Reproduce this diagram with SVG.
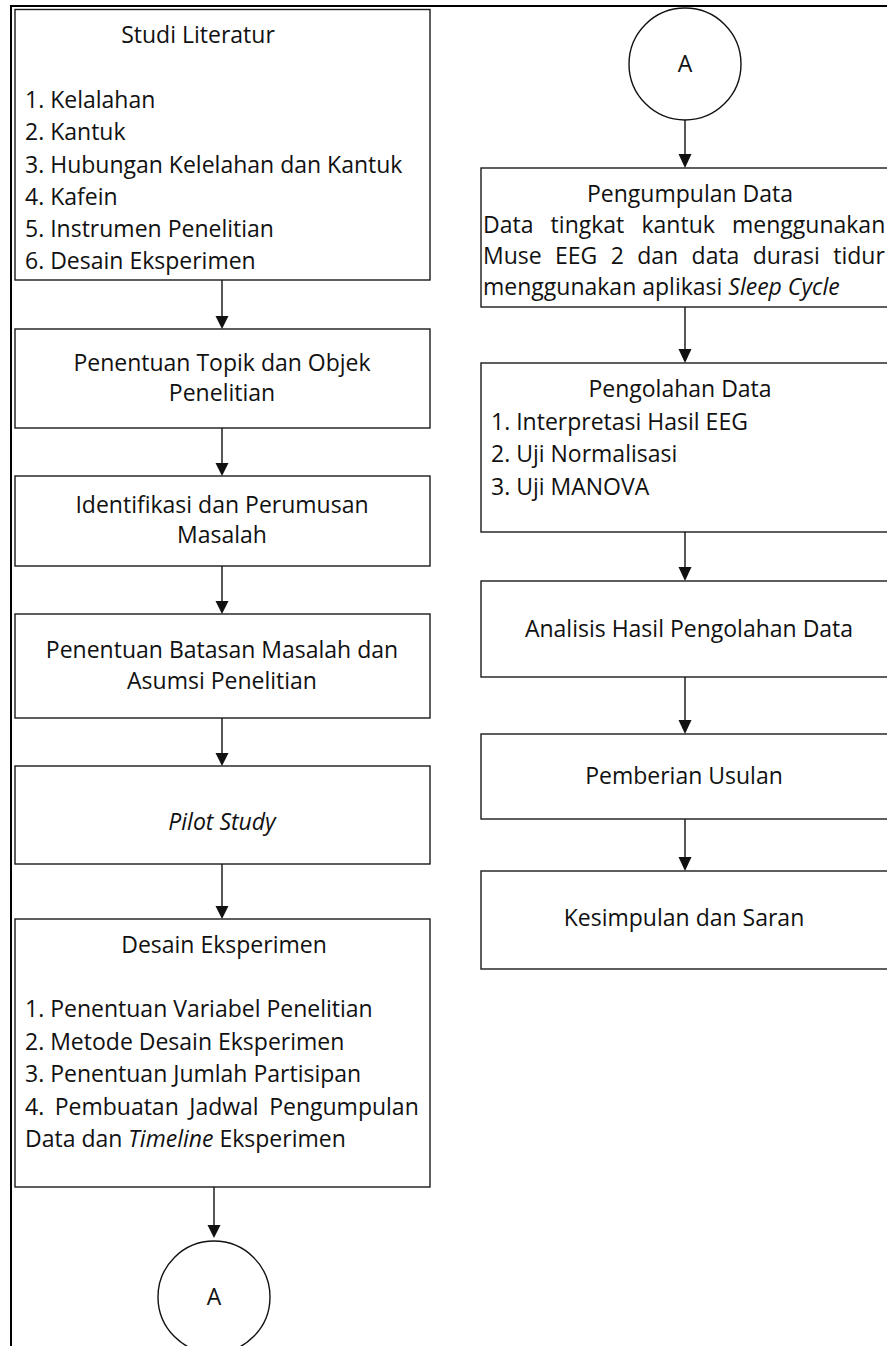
<svg xmlns="http://www.w3.org/2000/svg" width="887" height="1346" viewBox="0 0 887 1346">
<style>
.box{fill:#fff;stroke:#1a1a1a;stroke-width:1.4}
.frame{stroke:#000;stroke-width:2;fill:none}
.t{font-family:"Open Sans","Noto Sans",sans-serif;font-size:23px;fill:#111}
.c{text-anchor:middle}
.i{font-style:italic}
.ln{stroke:#111;stroke-width:1.4}
.hd{fill:#111}
</style>
<rect width="887" height="1346" fill="#fff"/>
<g id="frame">
<line class="frame" x1="10" y1="6" x2="887" y2="6"/>
<line class="frame" x1="11" y1="5" x2="11" y2="1346"/>
</g>
<g id="connectors">
<line class="ln" x1="222" y1="280" x2="222" y2="318"/>
<path class="hd" d="M215.5,316 L228.5,316 L222,329 Z"/>
<line class="ln" x1="222" y1="428" x2="222" y2="465"/>
<path class="hd" d="M215.5,463 L228.5,463 L222,476 Z"/>
<line class="ln" x1="222" y1="566" x2="222" y2="603"/>
<path class="hd" d="M215.5,601 L228.5,601 L222,614 Z"/>
<line class="ln" x1="222" y1="718" x2="222" y2="755"/>
<path class="hd" d="M215.5,753 L228.5,753 L222,766 Z"/>
<line class="ln" x1="222" y1="864" x2="222" y2="908"/>
<path class="hd" d="M215.5,906 L228.5,906 L222,919 Z"/>
<line class="ln" x1="214" y1="1187" x2="214" y2="1227"/>
<path class="hd" d="M207.5,1225 L220.5,1225 L214,1238 Z"/>
<line class="ln" x1="685" y1="120" x2="685" y2="156"/>
<path class="hd" d="M678.5,154 L691.5,154 L685,168 Z"/>
<line class="ln" x1="685" y1="307" x2="685" y2="351"/>
<path class="hd" d="M678.5,349 L691.5,349 L685,363 Z"/>
<line class="ln" x1="685" y1="532" x2="685" y2="569"/>
<path class="hd" d="M678.5,567 L691.5,567 L685,581 Z"/>
<line class="ln" x1="685" y1="677" x2="685" y2="722"/>
<path class="hd" d="M678.5,720 L691.5,720 L685,734 Z"/>
<line class="ln" x1="685" y1="819" x2="685" y2="859"/>
<path class="hd" d="M678.5,857 L691.5,857 L685,871 Z"/>
</g>
<g id="studi-literatur">
<rect class="box" x="15" y="9.5" width="415" height="270.5"/>
<text class="t c" x="198" y="43">Studi Literatur</text>
<text class="t" x="25" y="108">1. Kelalahan</text>
<text class="t" x="25" y="140">2. Kantuk</text>
<text class="t" x="25" y="173">3. Hubungan Kelelahan dan Kantuk</text>
<text class="t" x="25" y="205">4. Kafein</text>
<text class="t" x="25" y="237">5. Instrumen Penelitian</text>
<text class="t" x="25" y="269">6. Desain Eksperimen</text>
</g>
<g id="penentuan-topik">
<rect class="box" x="15" y="329" width="415" height="99"/>
<text class="t c" x="222" y="371">Penentuan Topik dan Objek</text>
<text class="t c" x="222" y="401">Penelitian</text>
</g>
<g id="identifikasi">
<rect class="box" x="15" y="476" width="415" height="90"/>
<text class="t c" x="222" y="513">Identifikasi dan Perumusan</text>
<text class="t c" x="222" y="543">Masalah</text>
</g>
<g id="batasan">
<rect class="box" x="15" y="614" width="415" height="104"/>
<text class="t c" x="222" y="658">Penentuan Batasan Masalah dan</text>
<text class="t c" x="222" y="689">Asumsi Penelitian</text>
</g>
<g id="pilot-study">
<rect class="box" x="15" y="766" width="415" height="98"/>
<text class="t c i" x="222" y="830">Pilot Study</text>
</g>
<g id="desain-eksperimen">
<rect class="box" x="15" y="919" width="415" height="268"/>
<text class="t c" x="224" y="953">Desain Eksperimen</text>
<text class="t" x="25" y="1017">1. Penentuan Variabel Penelitian</text>
<text class="t" x="25" y="1050">2. Metode Desain Eksperimen</text>
<text class="t" x="25" y="1082">3. Penentuan Jumlah Partisipan</text>
<text class="t" x="25" y="1115" word-spacing="4.5">4. Pembuatan Jadwal Pengumpulan</text>
<text class="t" x="25" y="1147">Data dan <tspan class="i">Timeline</tspan> Eksperimen</text>
</g>
<g id="connector-a-bottom">
<circle cx="214" cy="1297" r="56" fill="#fff" stroke="#111" stroke-width="1.4"/>
<text class="t c" x="214" y="1305">A</text>
</g>
<g id="connector-a-top">
<circle cx="685" cy="64" r="56" fill="#fff" stroke="#111" stroke-width="1.4"/>
<text class="t c" x="685" y="72">A</text>
</g>
<g id="pengumpulan-data">
<rect class="box" x="481" y="168" width="420" height="139"/>
<text class="t c" x="690" y="202">Pengumpulan Data</text>
<text class="t" x="483" y="233" word-spacing="11.2">Data tingkat kantuk menggunakan</text>
<text class="t" x="483" y="264" word-spacing="7.4">Muse EEG 2 dan data durasi tidur</text>
<text class="t" x="483" y="295">menggunakan aplikasi <tspan class="i">Sleep Cycle</tspan></text>
</g>
<g id="pengolahan-data">
<rect class="box" x="481" y="363" width="420" height="169"/>
<text class="t c" x="680" y="397">Pengolahan Data</text>
<text class="t" x="491" y="430">1. Interpretasi Hasil EEG</text>
<text class="t" x="491" y="462">2. Uji Normalisasi</text>
<text class="t" x="491" y="495">3. Uji MANOVA</text>
</g>
<g id="analisis">
<rect class="box" x="481" y="581" width="420" height="96"/>
<text class="t c" x="689" y="637">Analisis Hasil Pengolahan Data</text>
</g>
<g id="pemberian-usulan">
<rect class="box" x="481" y="734" width="420" height="85"/>
<text class="t c" x="684" y="784">Pemberian Usulan</text>
</g>
<g id="kesimpulan">
<rect class="box" x="481" y="871" width="420" height="98"/>
<text class="t c" x="684" y="926">Kesimpulan dan Saran</text>
</g>
</svg>
